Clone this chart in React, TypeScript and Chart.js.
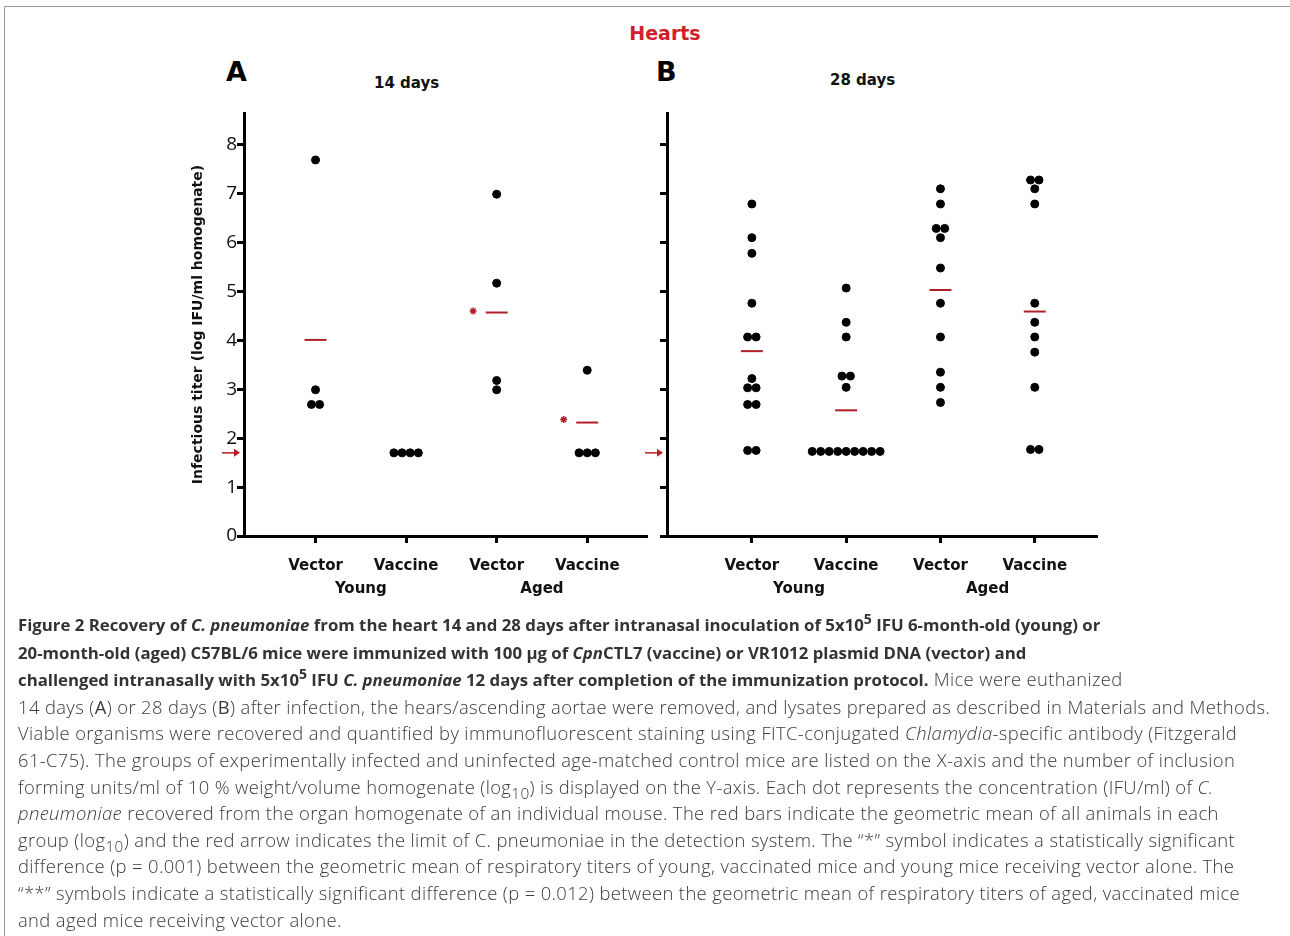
import { Chart, ChartConfiguration, registerables } from "chart.js";
import { useEffect, useState } from "react";

Chart.register(...registerables);

const categories = ["Vector", "Vaccine", "Vector", "Vaccine"];
const groups = ["Young", "Aged"];
const yTicks = [0, 1, 2, 3, 4, 5, 6, 7, 8];
const detectionLimit = 1.7;

// 14 days
const a_youngVector = [7.69, 2.99, 2.69, 2.69];
const a_youngVaccine = [1.7, 1.7, 1.7, 1.7];
const a_agedVector = [6.99, 5.17, 3.18, 2.99];
const a_agedVaccine = [3.39, 1.7, 1.7, 1.7];
const a_means = [4.01, null, 4.57, 2.32];
const a_stars = [null, null, 4.6, 2.38];

// 28 days
const b_youngVector = [6.79, 6.1, 5.78, 4.76, 4.07, 4.07, 3.22, 3.03, 3.03, 2.69, 2.69, 1.75, 1.75];
const b_youngVaccine = [5.07, 4.37, 4.07, 3.27, 3.27, 3.04, 1.73, 1.73, 1.73, 1.73, 1.73, 1.73, 1.73, 1.73, 1.73];
const b_agedVector = [7.1, 6.79, 6.29, 6.29, 6.1, 5.48, 4.76, 4.07, 3.35, 3.04, 2.73];
const b_agedVaccine = [7.28, 7.28, 7.1, 6.79, 4.76, 4.37, 4.07, 3.76, 3.04, 1.77, 1.77];
const b_means = [3.78, 2.57, 5.03, 4.59];

const RED = "#b0202a";
const LABEL_FONT = "'DejaVu Sans'";

function spread(values: number[], cat: number, step: number) {
  const counts: Record<string, number> = {};
  values.forEach((v) => (counts[v] = (counts[v] || 0) + 1));
  const seen: Record<string, number> = {};
  return values.map((v) => {
    const i = seen[v] || 0;
    seen[v] = i + 1;
    return { x: cat + (i - (counts[v] - 1) / 2) * step, y: v };
  });
}

function makeConfig(series: number[][], means: (number | null)[], stars: (number | null)[], xMin: number, showLabels: boolean, yWidth: number): ChartConfiguration {
  const dots = series.flatMap((s, i) => spread(s, i + 1, 0.09));
  const meanPts = means.map((m, i) => (m == null ? null : { x: i + 1, y: m })).filter(Boolean) as any[];
  const starPts = stars.map((s, i) => (s == null ? null : { x: i + 0.74, y: s })).filter(Boolean) as any[];
  const overlay = {
    id: "overlay",
    afterDraw(chart: Chart) {
      const ctx = chart.ctx;
      const xs = chart.scales.x;
      const ys = chart.scales.y;
      const yy = ys.getPixelForValue(detectionLimit);
      const x0 = chart.chartArea.left;
      ctx.save();
      ctx.strokeStyle = RED;
      ctx.fillStyle = RED;
      ctx.lineWidth = 1.5;
      ctx.beginPath();
      ctx.moveTo(x0 - 22, yy);
      ctx.lineTo(x0 - 6, yy);
      ctx.stroke();
      ctx.beginPath();
      ctx.moveTo(x0 - 4, yy);
      ctx.lineTo(x0 - 10, yy - 4);
      ctx.lineTo(x0 - 10, yy + 4);
      ctx.fill();
      ctx.fillStyle = "#111";
      ctx.font = `bold 15px ${LABEL_FONT}`;
      ctx.textAlign = "center";
      ctx.textBaseline = "middle";
      groups.forEach((g, i) => {
        ctx.fillText(g, xs.getPixelForValue(1.5 + i * 2), chart.chartArea.bottom + 53);
      });
      ctx.restore();
    }
  };
  return {
    type: "scatter",
    data: {
      datasets: [
        { data: dots, backgroundColor: "#000", borderColor: "#000", pointRadius: 4, pointHoverRadius: 4 },
        { data: meanPts, pointStyle: "line", pointRadius: 11, borderColor: RED, borderWidth: 2 },
        { data: starPts, pointStyle: "star", pointRadius: 3.5, borderColor: RED, backgroundColor: RED, borderWidth: 1.5 }
      ]
    },
    options: {
      animation: false,
      responsive: false,
      layout: { padding: { top: 8, right: 10, left: 0, bottom: 0 } },
      plugins: { legend: { display: false }, tooltip: { enabled: false } },
      scales: {
        x: {
          type: "linear",
          min: xMin,
          max: 4.66,
          afterBuildTicks: (s: any) => { s.ticks = [1, 2, 3, 4].map((v) => ({ value: v })); },
          afterFit: (s: any) => { s.height = 74; },
          border: { color: "#000", width: 3 },
          grid: { drawOnChartArea: false, tickLength: 7, tickWidth: 3, color: "#000" },
          ticks: {
            color: "#111",
            font: { family: LABEL_FONT, size: 15, weight: "bold" },
            padding: 14,
            callback: (v: any) => categories[Number(v) - 1] ?? ""
          }
        },
        y: {
          min: 0,
          max: 8.65,
          afterBuildTicks: (s: any) => { s.ticks = yTicks.map((v) => ({ value: v })); },
          afterFit: (s: any) => { s.width = yWidth; },
          border: { color: "#000", width: 3 },
          grid: { drawOnChartArea: false, tickLength: 7, tickWidth: 3, color: "#000" },
          title: {
            display: showLabels,
            text: "Infectious titer (log IFU/ml homogenate)",
            color: "#111",
            font: { family: LABEL_FONT, size: 14, weight: "bold" },
            padding: 0
          },
          ticks: {
            color: "#111",
            font: { family: "'Open Sans'", size: 19 },
            padding: 0,
            callback: (v: any) => (showLabels ? String(v) : "")
          }
        }
      }
    },
    plugins: [overlay]
  } as any;
}

function Panel({ config, left }: { config: () => ChartConfiguration; left: number }) {
  const [canvas, setCanvas] = useState<HTMLCanvasElement | null>(null);
  useEffect(() => {
    if (!canvas) return;
    const chart = new Chart(canvas, config());
    return () => chart.destroy();
  }, [canvas]);
  return <canvas ref={setCanvas} width={470} height={510} style={{ position: "absolute", left, top: 100 }} />;
}

const abs = (left: number, top: number, extra: any = {}) => ({ position: "absolute" as const, left, top, ...extra });
const sx = { lineHeight: 0 };
const bold = { fontSize: 16.8, fontWeight: 700, color: "#333", letterSpacing: 0 };

export default function App() {
  useEffect(() => {
    document.body.style.margin = "0";
  }, []);
  return (
    <div style={{ position: "relative", width: 1290, height: 936, overflow: "hidden", fontFamily: "'Open Sans'", color: "#222" }}>
      <div style={{ position: "absolute", left: 4, top: 6, width: 1300, height: 1000, border: "1px solid #999", borderTopRightRadius: 14 }} />
      <div style={abs(0, 22, { width: 1330, textAlign: "center", color: "#d0202a", fontWeight: "bold", fontSize: 19, fontFamily: LABEL_FONT })}>Hearts</div>
      <div style={abs(226, 56, { fontWeight: "bold", fontSize: 27, color: "#000", fontFamily: LABEL_FONT })}>A</div>
      <div style={abs(374, 74, { fontWeight: "bold", fontSize: 15, color: "#111", fontFamily: LABEL_FONT })}>14 days</div>
      <div style={abs(656, 56, { fontWeight: "bold", fontSize: 27, color: "#000", fontFamily: LABEL_FONT })}>B</div>
      <div style={abs(830, 71, { fontWeight: "bold", fontSize: 15, color: "#111", fontFamily: LABEL_FONT })}>28 days</div>
      <Panel left={190} config={() => makeConfig([a_youngVector, a_youngVaccine, a_agedVector, a_agedVaccine], a_means, a_stars, 0.21, true, 54)} />
      <Panel left={640} config={() => makeConfig([b_youngVector, b_youngVaccine, b_agedVector, b_agedVaccine], b_means, [null, null, null, null], 0.1, false, 27)} />
      <div style={abs(18, 611, { width: 1300, whiteSpace: "nowrap", fontSize: 18.4, fontWeight: 300, letterSpacing: 0.38, lineHeight: "26.6px", color: "#3a3a3a" })}>
        <span style={bold}>Figure 2 Recovery of <i>C. pneumoniae</i> from the heart 14 and 28 days after intranasal inoculation of 5x10<sup style={sx}>5</sup> IFU 6-month-old (young) or<br />
        20-month-old (aged) C57BL/6 mice were immunized with 100 µg of <i>Cpn</i>CTL7 (vaccine) or VR1012 plasmid DNA (vector) and<br />
        challenged intranasally with 5x10<sup style={sx}>5</sup> IFU <i>C. pneumoniae</i> 12 days after completion of the immunization protocol.</span> Mice were euthanized<br />
        14 days (<b>A</b>) or 28 days (<b>B</b>) after infection, the hears/ascending aortae were removed, and lysates prepared as described in Materials and Methods.<br />
        Viable organisms were recovered and quantified by immunofluorescent staining using FITC-conjugated <i>Chlamydia</i>-specific antibody (Fitzgerald<br />
        61-C75). The groups of experimentally infected and uninfected age-matched control mice are listed on the X-axis and the number of inclusion<br />
        forming units/ml of 10 % weight/volume homogenate (log<sub style={sx}>10</sub>) is displayed on the Y-axis. Each dot represents the concentration (IFU/ml) of <i>C.</i><br />
        <i>pneumoniae</i> recovered from the organ homogenate of an individual mouse. The red bars indicate the geometric mean of all animals in each<br />
        group (log<sub style={sx}>10</sub>) and the red arrow indicates the limit of C. pneumoniae in the detection system. The “*” symbol indicates a statistically significant<br />
        difference (p = 0.001) between the geometric mean of respiratory titers of young, vaccinated mice and young mice receiving vector alone. The<br />
        “**” symbols indicate a statistically significant difference (p = 0.012) between the geometric mean of respiratory titers of aged, vaccinated mice<br />
        and aged mice receiving vector alone.
      </div>
    </div>
  );
}
